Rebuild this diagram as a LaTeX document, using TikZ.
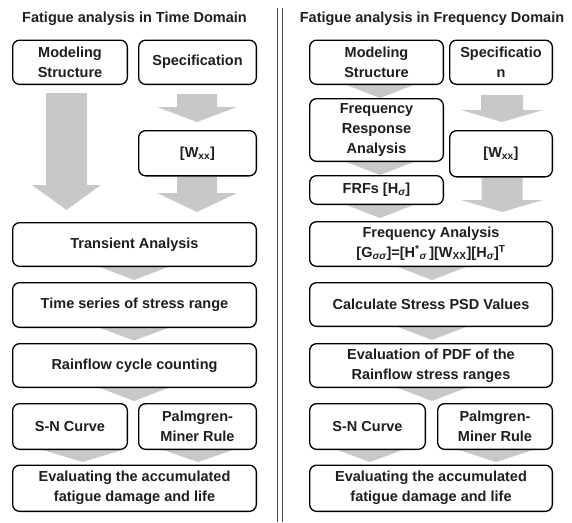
\documentclass[tikz,border=0pt]{standalone}
\usepackage{fontspec}
\setmainfont{Liberation Sans}
\usetikzlibrary{calc}
\pgfdeclarelayer{bg}
\pgfsetlayers{bg,main}
\definecolor{arrgray}{RGB}{200,200,200}
\definecolor{txt}{RGB}{30,30,30}
\definecolor{divc}{RGB}{70,70,70}
\newcommand\bx[6]{\node[box, minimum width={#4-#2-1.3}, minimum height={#5-#3-1.3}] (#1) at ({(#2+#4)/2},{(#3+#5)/2}) {#6};}
% block arrow: node, x offset, top dy, neck dy, tip dy, half shaft, half head
\newcommand\blk[7]{\fill[arr] ($(#1.south)+(#2-#6,#3)$) -- ($(#1.south)+(#2+#6,#3)$) -- ($(#1.south)+(#2+#6,#4)$) -- ($(#1.south)+(#2+#7,#4)$) -- ($(#1.south)+(#2,#5)$) -- ($(#1.south)+(#2-#7,#4)$) -- ($(#1.south)+(#2-#6,#4)$) -- cycle;}
% chevron: node, x offset, half width, depth
\newcommand\chev[4]{\fill[arr] ($(#1.south)+(#2-#3,0)$) -- ($(#1.south)+(#2+#3,0)$) -- ($(#1.south)+(#2,#4)$) -- cycle;}
\begin{document}
\begin{tikzpicture}[x=1pt,y=-1pt,
  box/.style={draw=black, rounded corners=7pt, line width=1.3pt, fill=white, align=center, inner sep=0pt,
    text=txt, font=\fontsize{14.5}{20}\selectfont\bfseries},
  ttl/.style={text=txt, font=\fontsize{14.5}{18}\selectfont\bfseries, inner sep=0pt},
  arr/.style={fill=arrgray},
  divider/.style={draw=divc, line width=1.1pt}]
\useasboundingbox (0,0) rectangle (572,522);
% titles
\node[ttl] (tl) at (134.5,18.5) {Fatigue analysis in Time Domain};
\node[ttl] (tr) at (432,18.5) {Fatigue analysis in Frequency Domain};
% divider
\draw[divider] (277.7,8) -- (277.7,522);
\draw[divider] (282.7,8) -- (282.7,522);
% left column
\bx{L1}{12}{39.5}{128}{85}{Modeling\\Structure}
\bx{L2}{138}{39.5}{257}{85}{Specification}
\bx{L3}{138}{130}{257}{176.5}{[W\textsubscript{xx}]}
\bx{L4}{12}{222}{257}{267}{Transient Analysis}
\bx{L5}{12}{282}{257}{328}{Time series of stress range}
\bx{L6}{12}{343}{257}{388}{Rainflow cycle counting}
\bx{L7}{12}{403}{128}{450}{S-N Curve}
\bx{L8}{138}{403}{257}{450}{Palmgren-\\Miner Rule}
\bx{L9}{12}{464.5}{257}{512}{Evaluating the accumulated\\fatigue damage and life}
% right column
\bx{R1}{309}{39.5}{444}{85}{Modeling\\Structure}
\bx{R2}{449}{39.5}{553}{85}{Specificatio\\n}
\bx{R3}{309}{98}{444}{162}{Frequency\\Response\\Analysis}
\bx{R4}{449}{130}{553}{177.5}{[W\textsubscript{xx}]}
\bx{R5}{309}{175}{444}{205}{FRFs [H\textsubscript{\itshape σ}]}
\bx{R6}{309}{221}{553}{267}{Frequency Analysis\\\relax [G\textsubscript{\itshape σσ}]=[H\textsuperscript{*}\textsubscript{\itshape σ}\,][W\textsubscript{XX}][H\textsubscript{\itshape σ}]\textsuperscript{T}}
\bx{R7}{309}{282}{553}{327}{Calculate Stress PSD Values}
\bx{R8}{309}{343}{553}{388}{Evaluation of PDF of the\\Rainflow stress ranges}
\bx{R9}{309}{403}{426}{450}{S-N Curve}
\bx{R10}{437}{403}{553}{450}{Palmgren-\\Miner Rule}
\bx{R11}{309}{464.5}{553}{512}{Evaluating the accumulated\\fatigue damage and life}
\begin{pgfonlayer}{bg}
% left arrows
\blk{L1}{-3.5}{8}{100}{125}{20.5}{34.5}
\blk{L2}{-0.5}{9}{22}{37}{20}{40}
\blk{L3}{-0.5}{0}{16.5}{35.5}{20}{40}
\chev{L4}{-0.5}{34}{13}
\chev{L5}{-0.5}{34}{12.5}
\chev{L6}{-0.5}{34}{13}
\chev{L7}{12.5}{39.5}{12}
\chev{L8}{0.5}{35}{12}
% right arrows
\chev{R1}{3.5}{33.5}{13}
\chev{R3}{3.5}{33.5}{13}
\chev{R5}{3.5}{33.5}{13}
\blk{R2}{1}{10}{25}{37}{21}{41}
\blk{R4}{1}{0}{22.5}{34.5}{20.5}{41}
\chev{R6}{1}{34}{13}
\chev{R7}{1}{34}{13}
\chev{R8}{1}{34}{13}
\chev{R9}{2.5}{32.5}{12}
\chev{R10}{1}{37}{12}
\end{pgfonlayer}
\end{tikzpicture}
\end{document}
